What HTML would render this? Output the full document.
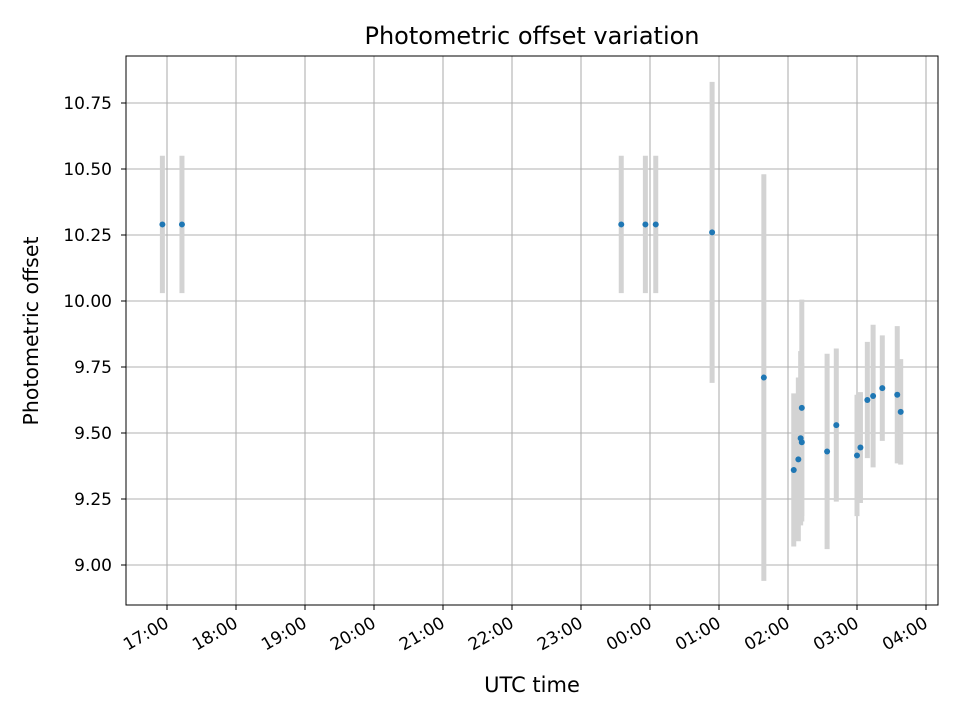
<!DOCTYPE html>
<html><head><meta charset="utf-8"><style>
body{margin:0;background:#fff;}
svg{display:block;font-family:"DejaVu Sans","Liberation Sans",sans-serif;}
</style></head><body>
<svg id="chart" width="960" height="720" viewBox="0 0 960 720">
<rect width="960" height="720" fill="#fff"/>
<g id="grid"></g>
<g id="bars"></g>
<g id="pts"></g>
<rect x="126" y="56" width="812" height="549" fill="none" stroke="#000" stroke-width="1"/>
<g id="axes"></g>
<text x="532" y="44" text-anchor="middle" font-size="24">Photometric offset variation</text>
<text x="532" y="692" text-anchor="middle" font-size="21">UTC time</text>
<text transform="translate(38,331) rotate(-90)" text-anchor="middle" font-size="20.5">Photometric offset</text>
</svg>
<script>
const times=["16:56","17:13","23:35","23:56","00:05","00:54","01:39","02:05","02:09","02:11","02:12","02:12","02:34","02:42","03:00","03:03","03:09","03:14","03:22","03:35","03:38"];
const offsets=[10.29,10.29,10.29,10.29,10.29,10.26,9.71,9.36,9.40,9.48,9.465,9.595,9.43,9.53,9.415,9.445,9.625,9.64,9.67,9.645,9.58];
const errors=[0.26,0.26,0.26,0.26,0.26,0.57,0.77,0.29,0.31,0.33,0.30,0.41,0.37,0.29,0.23,0.21,0.22,0.27,0.20,0.26,0.20];
const xTickLabels=["17:00","18:00","19:00","20:00","21:00","22:00","23:00","00:00","01:00","02:00","03:00","04:00"];
const yTicks=[9.00,9.25,9.50,9.75,10.00,10.25,10.50,10.75];

const NS="http://www.w3.org/2000/svg";
function hoursFrom17(s){let [h,m]=s.split(":").map(Number);if(h<12)h+=24;return h+m/60-17;}
const xScale=h=>167+h*69;
const yScale=v=>565-(v-9)*264;
function mk(tag,attrs,parent){const e=document.createElementNS(NS,tag);for(const k in attrs)e.setAttribute(k,attrs[k]);parent.appendChild(e);return e;}
const grid=document.getElementById('grid'),axes=document.getElementById('axes'),bars=document.getElementById('bars'),pts=document.getElementById('pts');
xTickLabels.forEach((lab,i)=>{
  const x=xScale(hoursFrom17(lab));
  const gl=mk('line',{x1:x,x2:x,y1:56,y2:605,stroke:'#b0b0b0','stroke-width':1.1},grid);
  
  
  const t=mk('line',{x1:x,x2:x,y1:605,y2:610,stroke:'#000','stroke-width':1},axes);
  
  
  const tx=mk('text',{transform:`translate(${x-3},${616}) rotate(-30)`,'text-anchor':'end','font-size':'17','dominant-baseline':'hanging'},axes);
  tx.textContent=lab;
  
  
});
yTicks.forEach(v=>{
  const y=yScale(v);
  const gl=mk('line',{x1:126,x2:938,y1:y,y2:y,stroke:'#b0b0b0','stroke-width':1.1},grid);
  
  
  const t=mk('line',{x1:121,x2:126,y1:y,y2:y,stroke:'#000','stroke-width':1},axes);
  
  
  const tx=mk('text',{x:112,y:y+6,'text-anchor':'end','font-size':'17'},axes);
  tx.textContent=v.toFixed(2);
  
  
});
times.forEach((t,i)=>{
  const x=xScale(hoursFrom17(t));
  const b=mk('line',{x1:x,x2:x,y1:yScale(offsets[i]+errors[i]),y2:yScale(offsets[i]-errors[i]),stroke:'#d3d3d3','stroke-width':5},bars);
  
  
});
times.forEach((t,i)=>{
  const x=xScale(hoursFrom17(t));
  const c=mk('circle',{cx:x,cy:yScale(offsets[i]),r:3,fill:'#1f77b4'},pts);
  
  
});
</script>
</body></html>
